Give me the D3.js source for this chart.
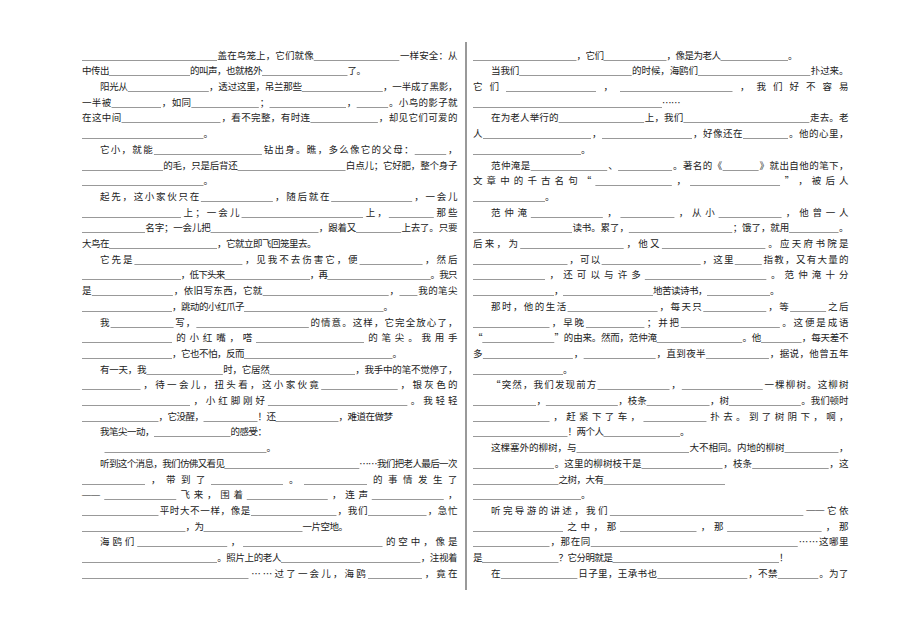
<!DOCTYPE html>
<html><head><meta charset="utf-8">
<script src="https://cdn.jsdelivr.net/npm/d3@7"></script>
<style>html,body{margin:0;padding:0;background:#fff;} svg{display:block}</style>
</head><body>
<svg id="c" width="920" height="638"></svg>
<script>
// Each line: strings are text, numbers are blanks (length in underscore characters).
const leftLines = [
  [30, "盖在鸟笼上，它们就像", 19, "一样安全：从"],
  ["中传出", 18, "的叫声，也就格外", 19, "了。"],
  ["　　阳光从", 18, "，透过这里，吊兰那些", 18, "，一半成了黑影，"],
  ["一半被", 11, "，如同", 15, "；", 17, "，", 7, "。小鸟的影子就"],
  ["在这中间", 22, "，看不完整，有时连", 15, "，却见它们可爱的"],
  [27, "。"],
  ["　　它小，就能", 24, "钻出身。瞧，多么像它的父母：", 7, "，"],
  [18, "的毛，只是后背还", 24, "白点儿；它好肥，整个身子"],
  [27, "。"],
  ["　　起先，这小家伙只在", 16, "，随后就在", 18, "，一会儿"],
  [22, "上；一会儿", 27, "上，", 10, "那些"],
  [14, "名字；一会儿把", 24, "，跟着又", 10, "上去了。只要"],
  ["大鸟在", 24, "，它就立即飞回笼里去。"],
  ["　　它先是", 24, "，见我不去伤害它，便", 14, "，然后"],
  [22, "，低下头来", 19, "，再", 23, "。我只"],
  ["是", 18, "，依旧写东西，它就", 28, "，", 4, "我的笔尖"],
  [20, "，跳动的小红爪子", 31, "。"],
  ["　　我", 14, "写，", 25, "的情意。这样，它完全放心了，"],
  [20, "的小红嘴，嗒", 24, "的笔尖。我用手"],
  [20, "，它也不怕，反而", 33, "。"],
  ["　　有一天，我", 17, "时，它居然", 19, "，我手中的笔不觉停了，"],
  [13, "，待一会儿，扭头看，这小家伙竟", 17, "，银灰色的"],
  [24, "，小红脚刚好", 31, "。我轻轻"],
  [17, "，它没醒，", 12, "！还", 14, "，难道在做梦"],
  ["　　我笔尖一动，", 17, "的感受："],
  ["　　 ", 36, "。"],
  ["　　听到这个消息，我们仿佛又看见", 30, "……我们把老人最后一次"],
  [14, "，带到了", 16, "。", 14, "的事情发生了"],
  ["——", 16, "飞来，围着", 18, "，连声", 16, "，"],
  [17, "平时大不一样，像是", 19, "，我们", 13, "，急忙"],
  [23, "，为", 22, "一片空地。"],
  ["　　海鸥们", 20, "，", 31, "的空中，像是"],
  [30, "。照片上的老人", 31, "，注视着"],
  [37, "……过了一会儿，海鸥", 12, "，竟在"]
];

const rightLines = [
  [23, "，它们", 14, "，像是为老人", 15, "。"],
  ["　　当我们", 25, "的时候，海鸥们", 25, "扑过来。"],
  ["它们", 20, "，", 25, "，我们好不容易"],
  [42, "……"],
  ["　　在为老人举行的", 19, "上，我们", 28, "走去。老"],
  ["人", 24, "，", 20, "，好像还在", 10, "。他的心里，"],
  [24, "。"],
  ["　　范仲淹是", 17, "、", 12, "。著名的《", 8, "》就出自他的笔下，"],
  ["文章中的千古名句“", 17, "，", 20, "”，被后人"],
  [16, "。"],
  ["　　范仲淹", 16, "，", 12, "，从小", 14, "，他曾一人"],
  [22, "读书。累了，", 23, "；饿了，就用", 11, "。"],
  ["后来，为", 23, "，他又", 23, "。应天府书院是"],
  [21, "，可以", 22, "，这里", 6, "指教，又有大量的"],
  [16, "，还可以与许多", 27, "。范仲淹十分"],
  [18, "，", 20, "地苦读诗书，", 14, "。"],
  ["　　那时，他的生活", 20, "，每天只", 14, "，等", 8, "之后"],
  [17, "，早晚", 13, "；并把", 22, "。这便是成语"],
  ["“", 16, "”的由来。然而，范仲淹", 19, "。他", 9, "，每天差不"],
  ["多", 20, "，", 16, "，直到夜半", 14, "，据说，他曾五年"],
  [20, "。"],
  ["　　“突然，我们发现前方", 16, "，", 18, "一棵柳树。这柳树"],
  [14, "，", 16, "，枝条", 14, "，树", 16, "。我们顿时"],
  [17, "，赶紧下了车，", 14, "扑去。到了树阴下，啊，"],
  [21, "！两个人", 17, "。"],
  ["　　这棵塞外的柳树，与", 25, "大不相同。内地的柳树", 12, "，"],
  [18, "。这里的柳树枝干是", 18, "，枝条", 17, "，这"],
  [19, "之树，大有", 27],
  [24, "。"],
  ["　　听完导游的讲述，我们", 43, "——它依"],
  [20, "之中，那", 17, "，那", 21, "，那"],
  [17, "，那在同", 46, "……这哪里"],
  ["是", 17, "？它分明就是", 37, "！"],
  ["　　在", 17, "日子里，王承书也", 20, "，不禁", 9, "。为了"]
];

const columns = [
  {lines: leftLines, x0: 82},
  {lines: rightLines, x0: 473}
];
const colWidth = 375;
const CW = 9;              // advance of one full-width character
const svg = d3.select("#c");
svg.append("rect").attr("width", 920).attr("height", 638).attr("fill", "#fff");

const y = d3.scaleLinear().domain([0, 33]).range([58.6, 58.6 + 33 * 15.7]);
const em = d3.scaleLinear().domain([0, 1]).range([0, CW]);

function tokenize(line) {
  const toks = []; let indent = 0;
  line.forEach(seg => {
    if (typeof seg === "number") { toks.push({type: "blank", w: em(seg / 2)}); return; }
    for (const ch of seg) {
      if (toks.length === 0 && ch === "　") { indent += em(1); continue; }
      if (toks.length === 0 && ch === " ") { indent += em(0.5); continue; }
      const prev = toks[toks.length - 1];
      if (ch === "—" && prev && prev.type === "dash") { prev.ch += ch; prev.w += em(1); continue; }
      toks.push({type: ch === "—" ? "dash" : "ch", ch: ch, w: em(1)});
    }
  });
  return {toks, indent};
}
const isIndented = l => typeof l[0] === "string" && l[0].startsWith("　");

columns.forEach(col => {
  const g = svg.append("g");
  col.lines.forEach((line, i) => {
    const {toks, indent} = tokenize(line);
    const natural = d3.sum(toks, t => t.w);
    const avail = colWidth - indent;
    const last = i === col.lines.length - 1;
    const nextIndented = !last && isIndented(col.lines[i + 1]);
    const justify = last || (!nextIndented && natural >= 0.72 * colWidth);
    const gap = justify && toks.length > 1 ? (avail - natural) / (toks.length - 1) : 0;
    let x = col.x0 + indent;
    toks.forEach(t => { t.x = x; x += t.w + gap; });
    const by = y(i);
    let run = null; const runs = [];
    toks.forEach(t => {
      if (t.type === "ch") {
        if (!run) { run = {chars: [], xs: []}; runs.push(run); }
        run.chars.push(t.ch); run.xs.push(t.x.toFixed(2));
      } else run = null;
    });
    g.selectAll(null).data(runs).enter().append("text")
      .attr("x", d => d.xs.join(" "))
      .attr("y", by)
      .attr("font-family", "'Noto Sans CJK SC', 'Noto Sans', sans-serif")
      .attr("font-size", 9.5)
      .attr("fill", "#222")
      .text(d => d.chars.join(""));
    g.selectAll(null).data(toks.filter(t => t.type === "dash")).enter().append("text")
      .attr("x", d => d.x).attr("y", by - 0.5)
      .attr("font-family", "'Liberation Serif', serif")
      .attr("font-size", 10)
      .attr("textLength", d => d.w)
      .attr("lengthAdjust", "spacingAndGlyphs")
      .attr("fill", "#222")
      .text(d => d.ch);
    g.selectAll(null).data(toks.filter(t => t.type === "blank")).enter().append("line")
      .attr("x1", d => d.x).attr("x2", d => d.x + d.w)
      .attr("y1", Math.round(by + 1) + 0.5).attr("y2", Math.round(by + 1) + 0.5)
      .attr("stroke", "#999").attr("stroke-width", 1);
  });
});

svg.append("line").attr("x1", 466).attr("x2", 466).attr("y1", 42).attr("y2", 590)
  .attr("stroke", "#777").attr("stroke-width", 1.5);
</script>
</body></html>
